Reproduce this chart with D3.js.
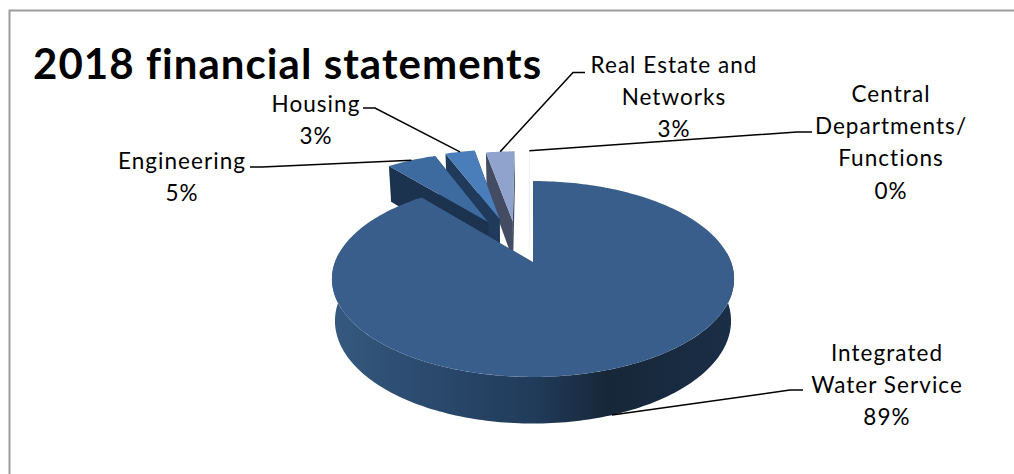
<!DOCTYPE html>
<html>
<head>
<meta charset="utf-8">
<style>
  html, body { margin: 0; padding: 0; background: #fff; }
  svg { display: block; }
  text { font-family: Lato, "Open Sans", sans-serif; fill: #000; }
</style>
<script src="https://cdn.jsdelivr.net/npm/d3@7"></script>
</head>
<body>
<svg id="chart" width="1014" height="474"></svg>
<script>
// Divisional shares of the 2018 financial statements, clockwise from 12 o'clock.
const categories = ["Integrated Water Service", "Engineering", "Housing", "Real Estate and Networks", "Central Departments/ Functions"];
const shares = [89, 5, 3, 2.9, 0.1];
const labelLines = [["Integrated", "Water Service"], ["Engineering"], ["Housing"], ["Real Estate and", "Networks"], ["Central", "Departments/", "Functions"]];
const title = "2018 financial statements";

// Presentation settings per slice, in the same order as the categories.
const topColors = ["#395e8c", "#3d6a9f", "#4a7ebb", "#8fa3cd", "#eef1f7"];
const wallColors = ["#1c3350", "#1c3350", "#1f3a5a", "#434c63", "#cfd4de"];
const explode = [[0, 0], [-0.245, 0.455], [-0.183, 0.492], [-0.11, 0.46], [-0.02, 0.47]];
const labelCenters = [[887, 361], [182, 169], [316, 112], [674, 73], [891, 102]];
const leaderElbows = [[[790, 390], [803, 390]], [[262, 167], [250, 167]], [[375, 108], [363, 108]], [[573, 72.5], [585, 72.5]], [[797, 132], [812, 132]]];

const svg = d3.select("#chart");

// Perspective model of the tilted disc: u runs right, c runs away from the viewer.
const origin = [533, 262], spreadX = 198, spreadY = 95, recede = 0.1735;
const scaleX = d3.scaleLinear().domain([0, 1]).range([origin[0], origin[0] + spreadX]);
const scaleY = d3.scaleLinear().domain([0, 1]).range([origin[1], origin[1] - spreadY]);

function project(u, c, lower) {
  const w = 1 + recede * c;
  let x = scaleX(u / w), y = scaleY(c / w);
  if (lower) {
    x = origin[0] + (x - origin[0]) * 0.985;
    y += 41 / (1 + 0.12 * c);
  }
  return [x, y];
}
const onRim = (angle, off, lower) => project(off[0] + Math.sin(angle), off[1] + Math.cos(angle), lower);
const hub = (off, lower) => project(off[0], off[1], lower);

function arcPoints(a0, a1, off, lower) {
  const n = Math.max(2, Math.ceil(Math.abs(a1 - a0) / 0.02));
  return d3.range(n + 1).map(i => onRim(a0 + (a1 - a0) * i / n, off, lower));
}
const line = d3.line();
const closed = pts => line(pts) + "Z";

const slices = d3.pie().sort(null).value(d => d)(shares)
  .map((s, i) => ({ ...s, index: i, mid: (s.startAngle + s.endAngle) / 2, off: explode[i] }));

// Rim shading of the large slice, dark towards the lower right.
const defs = svg.append("defs");
const rimShade = defs.append("linearGradient").attr("id", "rimShade")
  .attr("gradientUnits", "userSpaceOnUse")
  .attr("x1", 333).attr("x2", 735).attr("y1", 0).attr("y2", 0);
[[0, "#35597f"], [0.2, "#2c4c70"], [0.5, "#213b5a"], [0.68, "#172739"], [1, "#1a2e47"]]
  .forEach(([o, c]) => rimShade.append("stop").attr("offset", o).attr("stop-color", c));

// Chart frame: the top and left borders run off the page edge.
svg.append("path").attr("d", "M9.5,474V10.5H1014").attr("fill", "none")
  .attr("stroke", "#9c9c9c").attr("stroke-width", 2);

const pie = svg.append("g");

// The small slices go back to front, so each one may overlap the one behind it.
[4, 3, 2, 1].forEach(i => {
  const s = slices[i];
  const g = pie.append("g");
  g.append("path").attr("fill", wallColors[i]).attr("d", closed([
    hub(s.off, false), onRim(s.startAngle, s.off, false),
    onRim(s.startAngle, s.off, true), hub(s.off, true)
  ]));
  g.append("path").attr("fill", wallColors[i]).attr("d", closed([
    hub(s.off, false), onRim(s.endAngle, s.off, false),
    onRim(s.endAngle, s.off, true), hub(s.off, true)
  ]));
  g.append("path").attr("fill", topColors[i]).attr("d", closed([
    hub(s.off, false), ...arcPoints(s.startAngle, s.endAngle, s.off, false)
  ]));
});

// Large slice: side wall first, then its top face.
const main = slices[0];
const frontStart = Math.PI / 2 - 0.1, frontEnd = 3 * Math.PI / 2 + 0.1;
pie.append("path").attr("fill", "url(#rimShade)").attr("d", closed([
  ...arcPoints(frontStart, frontEnd, main.off, false),
  ...arcPoints(frontEnd, frontStart, main.off, true)
]));
pie.append("path").attr("fill", topColors[0]).attr("d", closed([
  hub(main.off, false), ...arcPoints(main.startAngle, main.endAngle, main.off, false)
]));

// Leader lines run from each slice to its label.
const leaderLayer = svg.append("g").attr("fill", "none").attr("stroke", "#000").attr("stroke-width", 1.5);
slices.forEach((s, i) => {
  const start = i === 0 ? onRim(s.mid, s.off, true) : onRim(s.mid, s.off, false);
  leaderLayer.append("path").attr("d", line([start, ...leaderElbows[i]]));
});

// Data labels: category lines followed by the rounded percentage.
const fmt = d3.format(".0%");
const total = d3.sum(shares);
const lineStep = 32.2;
slices.forEach((s, i) => {
  const rows = [...labelLines[i], fmt(s.value / total)];
  const t = svg.append("text").attr("text-anchor", "middle")
    .attr("font-size", 22.5).attr("letter-spacing", 1.05);
  rows.forEach((r, k) => t.append("tspan")
    .attr("x", labelCenters[i][0]).attr("y", labelCenters[i][1] + k * lineStep).text(r));
});

svg.append("text").attr("x", 33).attr("y", 79)
  .attr("font-size", 42).attr("font-weight", 700).attr("letter-spacing", 1.05).text(title);
</script>
</body>
</html>
